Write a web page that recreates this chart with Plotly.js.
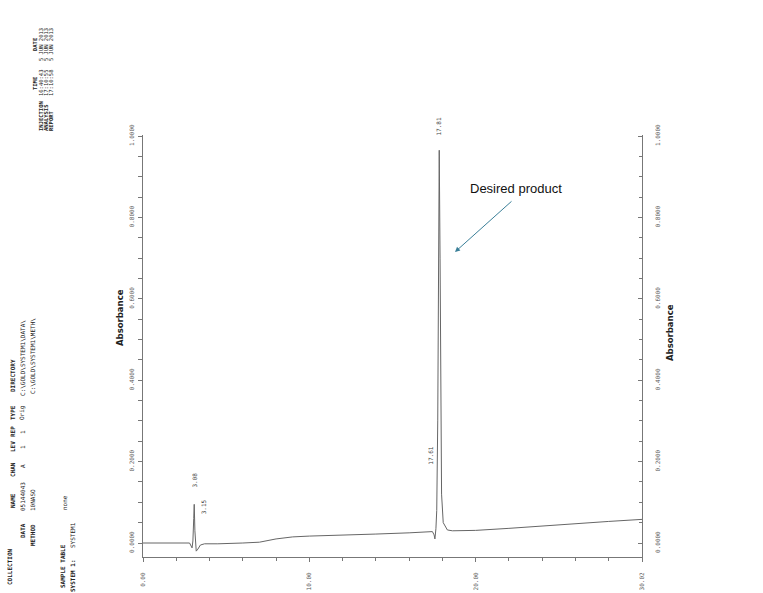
<!DOCTYPE html>
<html><head><meta charset="utf-8">
<script src="https://cdn.plot.ly/plotly-3.0.1.min.js"></script>
<style>html,body{margin:0;padding:0;background:#fff}#chart{width:763px;height:593px}</style>
</head><body><div id="chart"></div>
<script>
// ---- data ----
const timeMin = [0, 2.8, 2.95, 3.0, 3.05, 3.08, 3.12, 3.15, 3.2, 3.3, 3.45, 3.7, 4.5, 6.0, 7.0, 8.0, 9.0, 10.0, 12.0, 14.0, 16.0, 17.0, 17.4, 17.5, 17.55, 17.61, 17.66, 17.72, 17.77, 17.81, 17.86, 17.9, 17.95, 18.05, 18.3, 18.6, 20, 22, 24, 26, 28, 30];
const absorbance = [0.0, 0.0, -0.012, 0.005, 0.06, 0.095, 0.03, 0.015, -0.02, -0.015, -0.005, -0.002, -0.002, 0.0, 0.002, 0.01, 0.015, 0.017, 0.019, 0.022, 0.025, 0.027, 0.028, 0.02, 0.01, 0.035, 0.08, 0.3, 0.8, 0.965, 0.7, 0.3, 0.12, 0.05, 0.032, 0.03, 0.031, 0.036, 0.042, 0.048, 0.053, 0.058];
const peakTimes = [3.08, 3.15, 17.61, 17.81];
const peakLabels = ["3.08", "3.15", "17.61", "17.81"];
const yTickVals = [0, 0.2, 0.4, 0.6, 0.8, 1.0];
const yTickText = ["0.0000", "0.2000", "0.4000", "0.6000", "0.8000", "1.0000"];
const xTickVals = [0, 10, 20, 30];
const xTickText = ["0.00", "10.00", "20.00", "30.02"];

// ---- layout constants ----
const W = 763, H = 593, L = 143, R = 121, T = 135, B = 36;
const pw = W - L - R, ph = H - T - B;
const px2x = p => (p - L) / pw;
const py2y = p => (H - B - p) / ph;
const mono = "DejaVu Sans Mono, Liberation Mono, monospace";
const tickFont = {family: mono, size: 6, color: "#555"};
const axisColor = "#777";

const sig = {x: timeMin, y: absorbance, type: "scatter", mode: "lines",
  line: {color: "#666", width: 1}, hoverinfo: "skip", showlegend: false};
const sig2 = Object.assign({}, sig, {yaxis: "y2", opacity: 0});

const annotations = [];
// peak labels
const peakShift = {"3.08": [0, 24], "3.15": [8, 30], "17.61": [-5, 73], "17.81": [-1, 24]};
peakTimes.forEach((t, i) => {
  const v = absorbance[timeMin.indexOf(t)];
  const s = peakShift[peakLabels[i]];
  annotations.push({x: t, y: v, xref: "x", yref: "y", text: peakLabels[i], showarrow: false,
    textangle: -90, xanchor: "center", yanchor: "middle", xshift: s[0], yshift: s[1],
    font: {family: mono, size: 6, color: "#444"}});
});
// axis titles
annotations.push({x: px2x(120), y: py2y(318), xref: "paper", yref: "paper", text: "Absorbance", showarrow: false,
  textangle: -90, xanchor: "center", yanchor: "middle",
  font: {family: "DejaVu Sans", size: 8.5, color: "#222", weight: "bold"}});
annotations.push({x: px2x(670), y: py2y(333), xref: "paper", yref: "paper", text: "Absorbance", showarrow: false,
  textangle: -90, xanchor: "center", yanchor: "middle",
  font: {family: "DejaVu Sans", size: 8.5, color: "#222", weight: "bold"}});
// Desired product callout
annotations.push({x: px2x(468), y: py2y(188), xref: "paper", yref: "paper", text: "Desired product", showarrow: false,
  xanchor: "left", yanchor: "middle", font: {family: "Liberation Sans, Arial", size: 13, color: "#111"}});
annotations.push({x: px2x(455), y: py2y(252), xref: "paper", yref: "paper", text: "", showarrow: true,
  ax: 58, ay: -52, arrowcolor: "#3a7f98", arrowwidth: 1, arrowhead: 2, arrowsize: 1});

// report header text (rotated): [text, px, py(centre), bold, size]
const hdr = [
  ["DATE", 35, 45, 1, 5.5], ["TIME", 35, 84, 1, 5.5],
  ["INJECTION", 41, 116, 1, 5.5], ["16:40:43", 41, 83, 0, 5.5], ["5 JUN 2013", 41, 45, 0, 5.5],
  ["ANALYSIS", 46, 118, 1, 5.5], ["17:10:55", 46, 83, 0, 5.5], ["5 JUN 2013", 46, 45, 0, 5.5],
  ["REPORT", 51, 121, 1, 5.5], ["17:10:58", 51, 83, 0, 5.5], ["5 JUN 2013", 51, 45, 0, 5.5],
  ["COLLECTION", 9, 567, 1, 6], ["NAME", 12, 501, 1, 6], ["CHAN", 12, 470, 1, 6], ["LEV", 12, 447, 1, 6],
  ["REP", 12, 432, 1, 6], ["TYPE", 12, 413, 1, 6], ["DIRECTORY", 12, 376, 1, 6],
  ["DATA", 22, 531, 1, 6], ["05144043", 22, 497, 0, 6], ["A", 22, 466, 0, 6], ["1", 22, 447, 0, 6],
  ["1", 22, 432, 0, 6], ["Orig", 22, 413, 0, 6], ["C:\\GOLD\\SYSTEM1\\DATA\\", 22, 358, 0, 6],
  ["METHOD", 32, 535, 1, 6], ["10NASO", 32, 500, 0, 6], ["C:\\GOLD\\SYSTEM1\\METH\\", 32, 356, 0, 6],
  ["SAMPLE TABLE", 62, 566, 1, 6], ["none", 64, 503, 0, 6],
  ["SYSTEM 1:", 72, 576, 1, 6], ["SYSTEM1", 72, 535, 0, 6]
];
hdr.forEach(h => annotations.push({x: px2x(h[1]), y: py2y(h[2]), xref: "paper", yref: "paper", text: h[0],
  showarrow: false, textangle: -90, xanchor: "center", yanchor: "middle",
  font: {family: mono, size: h[4], color: "#222", weight: h[3] ? "bold" : "normal"}}));

const yRange = [-0.0344, 1.0025];
const layout = {
  width: W, height: H, margin: {l: L, r: R, t: T, b: B, pad: 0},
  paper_bgcolor: "#fff", plot_bgcolor: "#fff", showlegend: false,
  xaxis: {range: [0, 30], showline: true, linecolor: axisColor, linewidth: 1, mirror: false,
    showgrid: false, zeroline: false, ticks: "outside", ticklen: 4, tickcolor: axisColor,
    tickmode: "array", tickvals: xTickVals, ticktext: xTickText, tickangle: -90, tickfont: tickFont,
    ticklabelstandoff: 8,
    minor: {dtick: 2, tick0: 0, ticks: "outside", ticklen: 3, tickcolor: axisColor, showgrid: false}},
  yaxis: {range: yRange, showline: true, linecolor: axisColor, linewidth: 1, showgrid: false, zeroline: false,
    ticks: "outside", ticklen: 4, tickcolor: axisColor, tickmode: "array", tickvals: yTickVals, ticktext: yTickText,
    tickangle: -90, tickfont: tickFont, ticklabelstandoff: 2,
    minor: {dtick: 0.05, tick0: 0, ticks: "outside", ticklen: 4, tickcolor: axisColor, showgrid: false}},
  yaxis2: {range: yRange, overlaying: "y", side: "right", anchor: "x", showline: true, linecolor: axisColor,
    linewidth: 1, showgrid: false, zeroline: false, ticks: "inside", ticklen: 4, tickcolor: axisColor,
    tickmode: "array", tickvals: yTickVals, ticktext: yTickText, tickangle: -90, tickfont: tickFont,
    ticklabelstandoff: 10,
    minor: {dtick: 0.05, tick0: 0, ticks: "inside", ticklen: 3, tickcolor: axisColor, showgrid: false}},
  annotations: annotations
};
Plotly.newPlot("chart", [sig, sig2], layout, {staticPlot: true, displayModeBar: false});
</script></body></html>
